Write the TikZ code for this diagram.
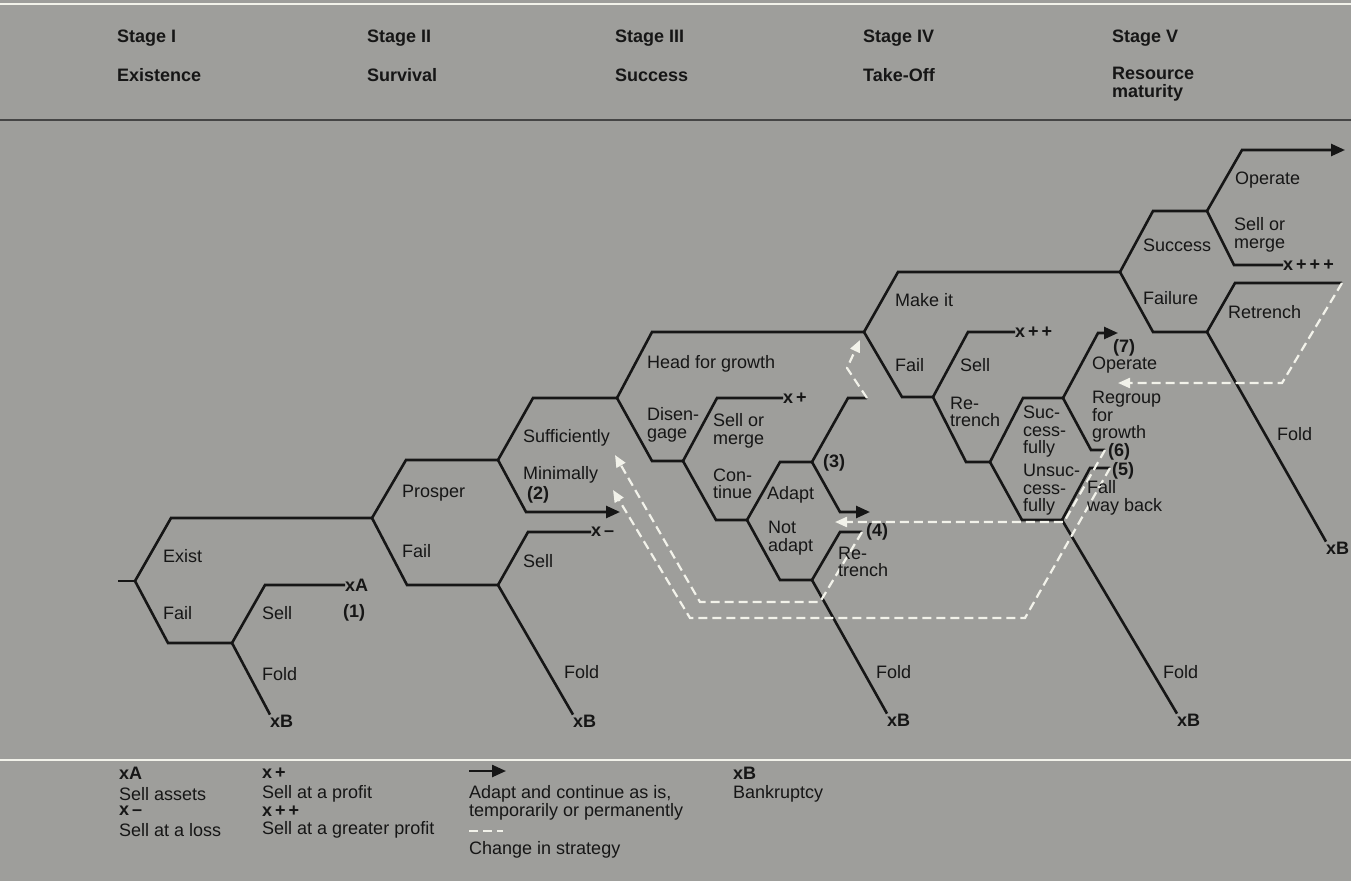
\documentclass[tikz,border=0pt]{standalone}
\usepackage{fontspec}
\setmainfont{Liberation Sans}
\usetikzlibrary{arrows.meta}

\definecolor{paper}{RGB}{158,158,155}
\definecolor{ink}{RGB}{22,22,22}
\definecolor{chalk}{RGB}{242,242,234}

\begin{document}
\begin{tikzpicture}[x=1pt,y=-1pt,
	lbl/.style={anchor=west,inner sep=0pt,align=left,text=ink,font=\fontsize{18}{17.5}\selectfont},
	endlbl/.style={lbl,font=\fontsize{18}{17.5}\selectfont\bfseries},
	branch/.style={draw=ink,line width=2.6pt},
	goes/.style={branch,-{Triangle[length=14pt,width=12pt]}},
	change/.style={draw=chalk,line width=2.2pt,dash pattern=on 9pt off 5pt,-{Triangle[length=12pt,width=10pt]}}]
	\useasboundingbox (0,0) rectangle (1351,881);
	\fill[paper] (0,0) rectangle (1351,881);
	\draw[chalk,line width=2pt] (0,4) -- (1351,4);
	\draw[ink!80,line width=1.4pt] (0,120) -- (1351,120);
	\draw[chalk,line width=2.5pt] (0,760) -- (1351,760);

	\node[endlbl] (S1) at (117,38) {Stage I};
	\node[endlbl] (N1) at (117,75) {Existence};
	\node[endlbl] (S2) at (367,38) {Stage II};
	\node[endlbl] (N2) at (367,75) {Survival};
	\node[endlbl] (S3) at (615,38) {Stage III};
	\node[endlbl] (N3) at (615,75) {Success};
	\node[endlbl] (S4) at (863,38) {Stage IV};
	\node[endlbl] (N4) at (863,75) {Take-Off};
	\node[endlbl] (S5) at (1112,38) {Stage V};
	\node[endlbl] (N5) at (1112,84) {Resource\\maturity};

	\coordinate (Start) at (118,581);
	\coordinate (A) at (135,581);
	\coordinate (B) at (372,518);
	\coordinate (C) at (232,643);
	\coordinate (D) at (498,460);
	\coordinate (E) at (498,585);
	\coordinate (F) at (617,398);
	\coordinate (G) at (864,332);
	\coordinate (H) at (683,461);
	\coordinate (I) at (747,520);
	\coordinate (J) at (812,462);
	\coordinate (K) at (812,580);
	\coordinate (L) at (1120,272);
	\coordinate (N) at (933,397);
	\coordinate (P) at (990,462);
	\coordinate (Q) at (1063,398);
	\coordinate (R) at (1062,520);
	\coordinate (T) at (1207,211);
	\coordinate (U) at (1207,332);
	\coordinate (MIN) at (620,512);
	\coordinate (AD3) at (867,398);
	\coordinate (AD) at (870,512);
	\coordinate (RT4) at (862,532);
	\coordinate (OP7) at (1118,333);
	\coordinate (RG6) at (1105,450);
	\coordinate (FW5) at (1110,468);
	\coordinate (OP) at (1345,150);
	\coordinate (RT) at (1342,283);
	\coordinate (SUF) at (615,455);
	\coordinate (MINb) at (613,490);
	\coordinate (ADb) at (835,522);
	\coordinate (MK) at (860,340);
	\coordinate (OPb) at (1118,383);

	\node[endlbl] (XA) at (345,585) {xA};
	\node[endlbl] (XM) at (591,532) {x\,--};
	\node[endlbl] (XP) at (783,398) {x\,+};
	\node[endlbl] (XPP) at (1015,332) {x\,+\,+};
	\node[endlbl] (XPPP) at (1283,265) {x\,+\,+\,+};
	\node[endlbl] (XB1) at (270,721) {xB};
	\node[endlbl] (XB2) at (573,721) {xB};
	\node[endlbl] (XB3) at (887,720) {xB};
	\node[endlbl] (XB4) at (1177,720) {xB};
	\node[endlbl] (XB5) at (1326,548) {xB};

	\draw[branch] (Start) -- (A);
	\draw[branch] (A) -- ++(36,-63) -- (B);
	\draw[branch] (A) -- ++(33,62) -- (C);
	\draw[branch] (C) -- ++(33,-58) -- (XA.west);
	\draw[branch] (C) -- (XB1.north west);
	\draw[branch] (B) -- ++(34,-58) -- (D);
	\draw[branch] (B) -- ++(35,67) -- (E);
	\draw[branch] (D) -- ++(35,-62) -- (F);
	\draw[goes] (D) -- ++(28,52) -- (MIN);
	\draw[branch] (E) -- ++(30,-53) -- (XM.west);
	\draw[branch] (E) -- (XB2.north west);
	\draw[branch] (F) -- ++(35,-66) -- (G);
	\draw[branch] (F) -- ++(35,63) -- (H);
	\draw[branch] (H) -- ++(34,-63) -- (XP.west);
	\draw[branch] (H) -- ++(33,59) -- (I);
	\draw[branch] (I) -- ++(33,-58) -- (J);
	\draw[branch] (J) -- ++(36,-64) -- (AD3);
	\draw[goes] (J) -- ++(28,50) -- (AD);
	\draw[branch] (I) -- ++(33,60) -- (K);
	\draw[branch] (K) -- ++(28,-48) -- (RT4);
	\draw[branch] (K) -- (XB3.north west);
	\draw[branch] (G) -- ++(34,-60) -- (L);
	\draw[branch] (G) -- ++(38,65) -- (N);
	\draw[branch] (N) -- ++(35,-65) -- (XPP.west);
	\draw[branch] (N) -- ++(33,65) -- (P);
	\draw[branch] (P) -- ++(33,-64) -- (Q);
	\draw[goes] (Q) -- ++(35,-65) -- (OP7);
	\draw[branch] (Q) -- ++(28,52) -- (RG6);
	\draw[branch] (P) -- ++(32,58) -- (R);
	\draw[branch] (R) -- ++(28,-52) -- (FW5);
	\draw[branch] (R) -- (XB4.north west);
	\draw[branch] (L) -- ++(33,-61) -- (T);
	\draw[goes] (T) -- ++(35,-61) -- (OP);
	\draw[branch] (T) -- ++(27,54) -- (XPPP.west);
	\draw[branch] (L) -- ++(33,60) -- (U);
	\draw[branch] (U) -- ++(28,-49) -- (RT);
	\draw[branch] (U) -- (XB5.north west);

	\draw[change] (RT4) -- ++(-42,70) -- ++(-120,0) -- (SUF);
	\draw[change] (FW5) -- ++(-85,150) -- ++(-335,0) -- (MINb);
	\draw[change] (RG6) -- ++(-41,72) -- (ADb);
	\draw[change] (AD3) -- ++(-20,-30) -- (MK);
	\draw[change] (RT) -- ++(-60,100) -- (OPb);

	\node[lbl] (EX) at (163,556) {Exist};
	\node[lbl] (FA1) at (163,613) {Fail};
	\node[lbl] (SE1) at (262,613) {Sell};
	\node[lbl] (FO1) at (262,674) {Fold};
	\node[endlbl] (C1) at (343,613) {(1)};

	\node[lbl] (PR) at (402,493) {Prosper};
	\node[lbl] (FA2) at (402,551) {Fail};
	\node[lbl] (SU) at (523,438) {Sufficiently};
	\node[lbl] (MI) at (523,475) {Minimally};
	\node[endlbl] (C2) at (527,495) {(2)};
	\node[lbl] (SE2) at (523,561) {Sell};
	\node[lbl] (FO2) at (564,672) {Fold};

	\node[lbl] (HG) at (647,364) {Head for growth};
	\node[lbl] (DI) at (647,425) {Disen-\\gage};
	\node[lbl] (SM3) at (713,431) {Sell or\\merge};
	\node[lbl] (CO) at (713,484) {Con-\\tinue};
	\node[lbl] (AP) at (767,495) {Adapt};
	\node[lbl] (NA) at (768,538) {Not\\adapt};
	\node[lbl] (RE3) at (838,562) {Re-\\trench};
	\node[endlbl] (C3) at (823,463) {(3)};
	\node[endlbl] (C4) at (866,532) {(4)};
	\node[lbl] (FO3) at (876,672) {Fold};

	\node[lbl] (MA) at (895,300) {Make it};
	\node[lbl] (FA4) at (895,365) {Fail};
	\node[lbl] (SE4) at (960,365) {Sell};
	\node[lbl] (RE4) at (950,412) {Re-\\trench};
	\node[lbl] (SC) at (1023,432) {Suc-\\cess-\\fully};
	\node[lbl] (US) at (1023,490) {Unsuc-\\cess-\\fully};
	\node[endlbl] (C7) at (1113,348) {(7)};
	\node[lbl] (OP4) at (1092,365) {Operate};
	\node[lbl] (RG) at (1092,417) {Regroup\\for\\growth};
	\node[endlbl] (C6) at (1108,452) {(6)};
	\node[endlbl] (C5) at (1112,471) {(5)};
	\node[lbl] (FW) at (1087,498) {Fall\\way back};
	\node[lbl] (FO4) at (1163,672) {Fold};

	\node[lbl] (OP5) at (1235,180) {Operate};
	\node[lbl] (SM5) at (1234,235) {Sell or\\merge};
	\node[lbl] (SC5) at (1143,245) {Success};
	\node[lbl] (FL5) at (1143,298) {Failure};
	\node[lbl] (RE5) at (1228,312) {Retrench};
	\node[lbl] (FO5) at (1277,434) {Fold};

	\node[endlbl] (KA) at (119,773) {xA};
	\node[lbl] (KA2) at (119,794) {Sell assets};
	\node[endlbl] (KM) at (119,811) {x\,--};
	\node[lbl] (KM2) at (119,830) {Sell at a loss};
	\node[endlbl] (KP) at (262,773) {x\,+};
	\node[lbl] (KP2) at (262,794) {Sell at a profit};
	\node[endlbl] (KPP) at (262,811) {x\,+\,+};
	\node[lbl] (KPP2) at (262,830) {Sell at a greater profit};
	\coordinate (KG1) at (469,771);
	\coordinate (KG2) at (506,771);
	\draw[goes,line width=2.4pt] (KG1) -- (KG2);
	\node[lbl] (KG) at (469,803) {Adapt and continue as is,\\temporarily or permanently};
	\coordinate (KC1) at (469,831);
	\coordinate (KC2) at (503,831);
	\draw[change,-] (KC1) -- (KC2);
	\node[lbl] (KC) at (469,850) {Change in strategy};
	\node[endlbl] (KB) at (733,773) {xB};
	\node[lbl] (KB2) at (733,794) {Bankruptcy};
\end{tikzpicture}
\end{document}
